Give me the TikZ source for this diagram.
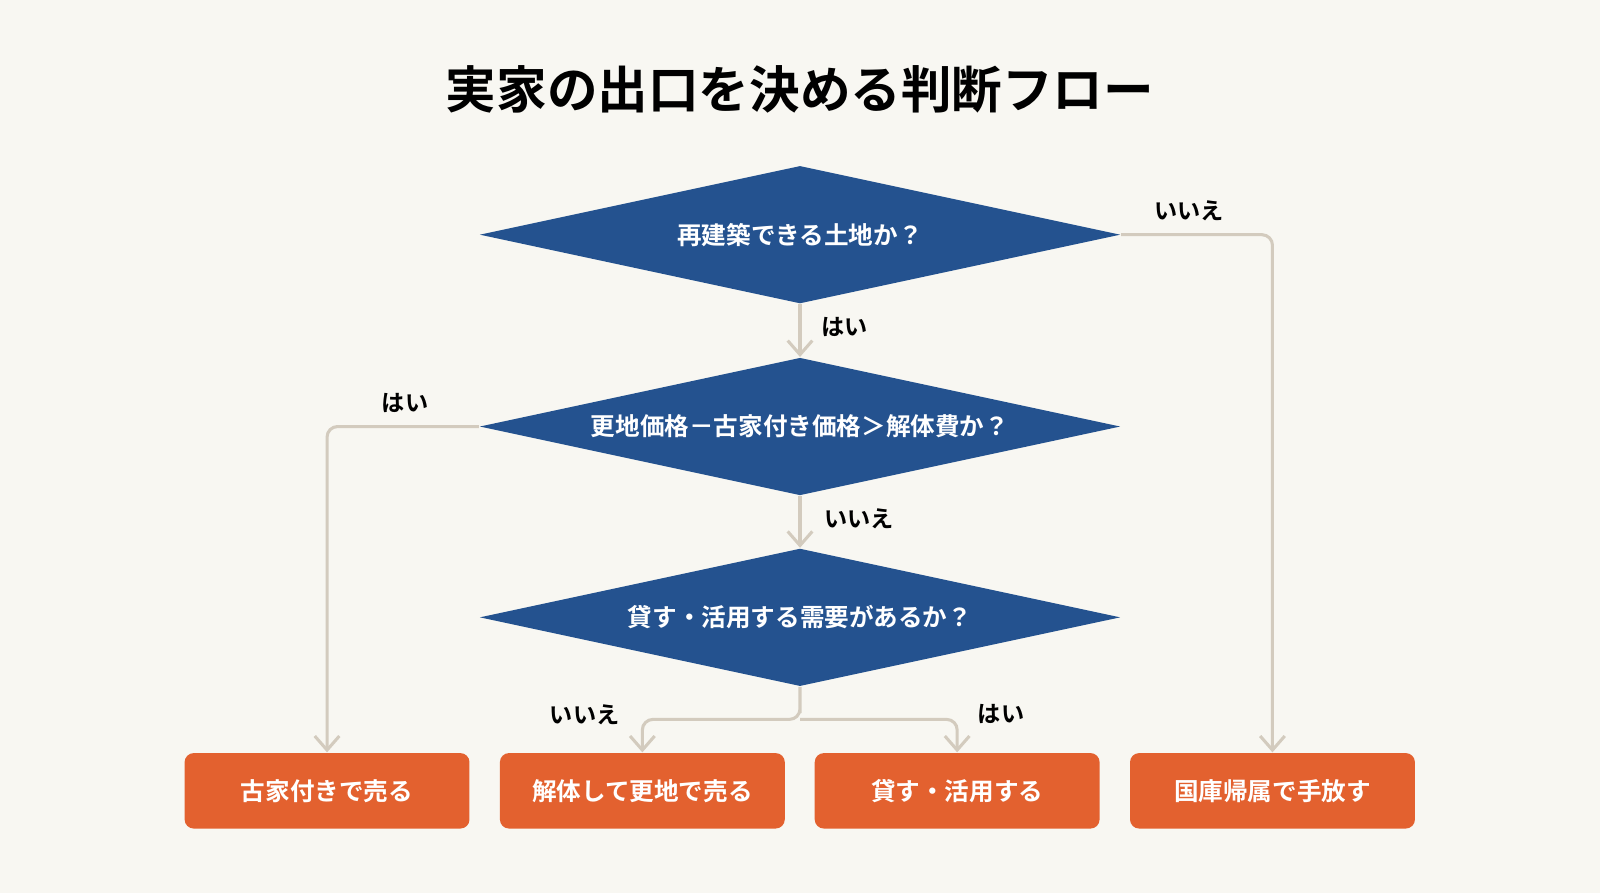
\documentclass[tikz,border=0pt]{standalone}
\usepackage{fontspec}
\setmainfont{Noto Sans CJK JP}[BoldFont={* Bold}]
\usetikzlibrary{shapes.geometric,arrows.meta}
\definecolor{bg}{HTML}{F8F7F2}
\definecolor{dblue}{HTML}{24528F}
\definecolor{borange}{HTML}{E3612F}
\definecolor{lnc}{HTML}{D3CBBE}
\begin{document}
\begin{tikzpicture}[x=0.010204cm,y=-0.010204cm,
  dec/.style={diamond,fill=dblue,text=white,minimum width=6.41cm,minimum height=1.378cm,aspect=4.65,inner sep=0pt,font=\bfseries\fontsize{7}{8}\selectfont},
  outbox/.style={rectangle,rounded corners=2.6pt,fill=borange,text=white,minimum width=2.85cm,minimum height=0.755cm,inner sep=0pt,font=\bfseries\fontsize{7}{8}\selectfont},
  lab/.style={font=\bfseries\fontsize{6.6}{8}\selectfont,text=black},
  conn/.style={draw=lnc,line width=0.87pt,rounded corners=3pt,-{Straight Barb[length=4pt,width=7pt]}}]
\fill[bg] (0,0) rectangle (1568,875);
\node[font=\bfseries\fontsize{14.4}{16}\selectfont] (title) at (784,88) {実家の出口を決める判断フロー};
\node[dec] (d1) at (784,230) {再建築できる土地か？};
\node[dec] (d2) at (784,418) {更地価格－古家付き価格＞解体費か？};
\node[dec] (d3) at (784,605) {貸す・活用する需要があるか？};
\node[outbox] (b1) at (320.5,775) {古家付きで売る};
\node[outbox] (b2) at (629.5,775) {解体して更地で売る};
\node[outbox] (b3) at (938,775) {貸す・活用する};
\node[outbox] (b4) at (1247,775) {国庫帰属で手放す};
\coordinate (s3) at (784,705);
\draw[conn] (d1.east) -| (b4.north);
\draw[conn] (d1.south) -- (d2.north);
\draw[conn] (d2.west) -| (b1.north);
\draw[conn] (d2.south) -- (d3.north);
\draw[conn] (d3.south) |- (s3) -| (b2.north);
\draw[conn] (s3) -| (b3.north);
\node[lab] at (1165,207) {いいえ};
\node[lab] at (828,320) {はい};
\node[lab] at (397,395) {はい};
\node[lab] at (842,508) {いいえ};
\node[lab] at (573,700) {いいえ};
\node[lab] at (981,700) {はい};
\end{tikzpicture}
\end{document}
